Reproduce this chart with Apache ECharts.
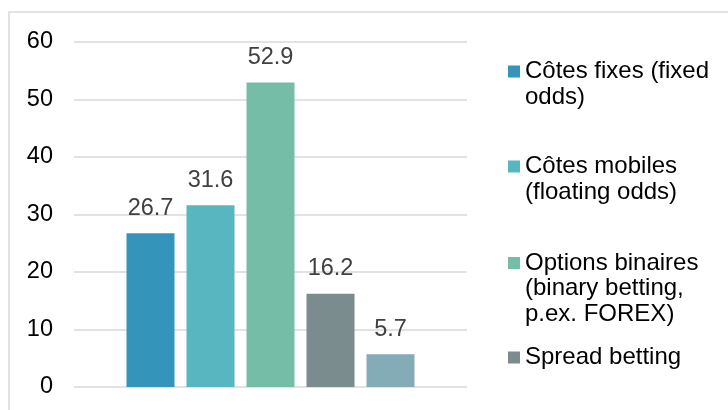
<!DOCTYPE html>
<html>
<head>
<meta charset="utf-8">
<script src="https://cdn.jsdelivr.net/npm/echarts@6/dist/echarts.min.js"></script>
<style>
html,body{margin:0;padding:0;background:#fff;}
#chart{width:728px;height:410px;}
</style>
</head>
<body>
<div id="chart"></div>
<script>
const seriesNames = [
  'Côtes fixes (fixed\nodds)',
  'Côtes mobiles\n(floating odds)',
  'Options binaires\n(binary betting,\np.ex. FOREX)',
  'Spread betting',
  'Autres'
];
const seriesValues = [26.7, 31.6, 52.9, 16.2, 5.7];
const seriesColors = ['#3494BA', '#58B6C0', '#75BDA7', '#7A8C8E', '#84ACB6'];
const categories = [''];
const yTicks = { min: 0, max: 60, interval: 10 };

const FONT = "'Liberation Sans', Arial, sans-serif";
const LH = 25.5;
const legendCenters = [71.5, 166.5, 263, 357.5];

function iconFor(lines) {
  const H = lines * LH;
  const c = LH / 2;
  const t = c - 6, b = c + 6;
  return 'path://M0,0L0.001,0L0.001,0.001Z M0,' + t + 'L12,' + t + 'L12,' + b + 'L0,' + b + 'Z M11.999,' + H + 'L12,' + H + 'L12,' + (H - 0.001) + 'Z';
}

const legends = [];
for (let i = 0; i < 4; i++) {
  const lines = seriesNames[i].split('\n').length;
  legends.push({
    data: [seriesNames[i]],
    orient: 'vertical',
    left: 508,
    top: legendCenters[i] - LH / 2,
    padding: 0,
    itemWidth: 12,
    itemHeight: lines * LH,
    icon: iconFor(lines),
    selectedMode: false,
    textStyle: { fontFamily: FONT, fontSize: 24, lineHeight: LH, color: '#000' }
  });
}

const series = seriesNames.map((name, i) => ({
  name: name,
  type: 'bar',
  data: [seriesValues[i]],
  barWidth: 48,
  barGap: '25%',
  itemStyle: { color: seriesColors[i] },
  label: {
    show: true,
    position: 'top',
    distance: 13,
    fontFamily: FONT,
    fontSize: 23.5,
    color: '#404040',
    formatter: p => p.value.toFixed(1)
  }
}));

const chart = echarts.init(document.getElementById('chart'), null, { renderer: 'canvas' });
chart.setOption({
  animation: false,
  backgroundColor: '#fff',
  graphic: [{
    type: 'rect',
    shape: { x: 9, y: 12, width: 740, height: 420 },
    style: { fill: 'none', stroke: '#D9D9D9', lineWidth: 1.5 },
    silent: true,
    z: -1
  }],
  grid: { left: 74, right: 261, top: 41.7, bottom: 23, containLabel: false },
  legend: legends,
  xAxis: {
    type: 'category',
    data: categories,
    axisLine: { show: false },
    axisTick: { show: false },
    axisLabel: { show: false }
  },
  yAxis: {
    type: 'value',
    min: yTicks.min,
    max: yTicks.max,
    interval: yTicks.interval,
    axisLine: { show: false },
    axisTick: { show: false },
    axisLabel: { margin: 21, fontFamily: FONT, fontSize: 23.5, color: '#000' },
    splitLine: { lineStyle: { color: '#D9D9D9', width: 1.5 } }
  },
  series: series
});
</script>
</body>
</html>
